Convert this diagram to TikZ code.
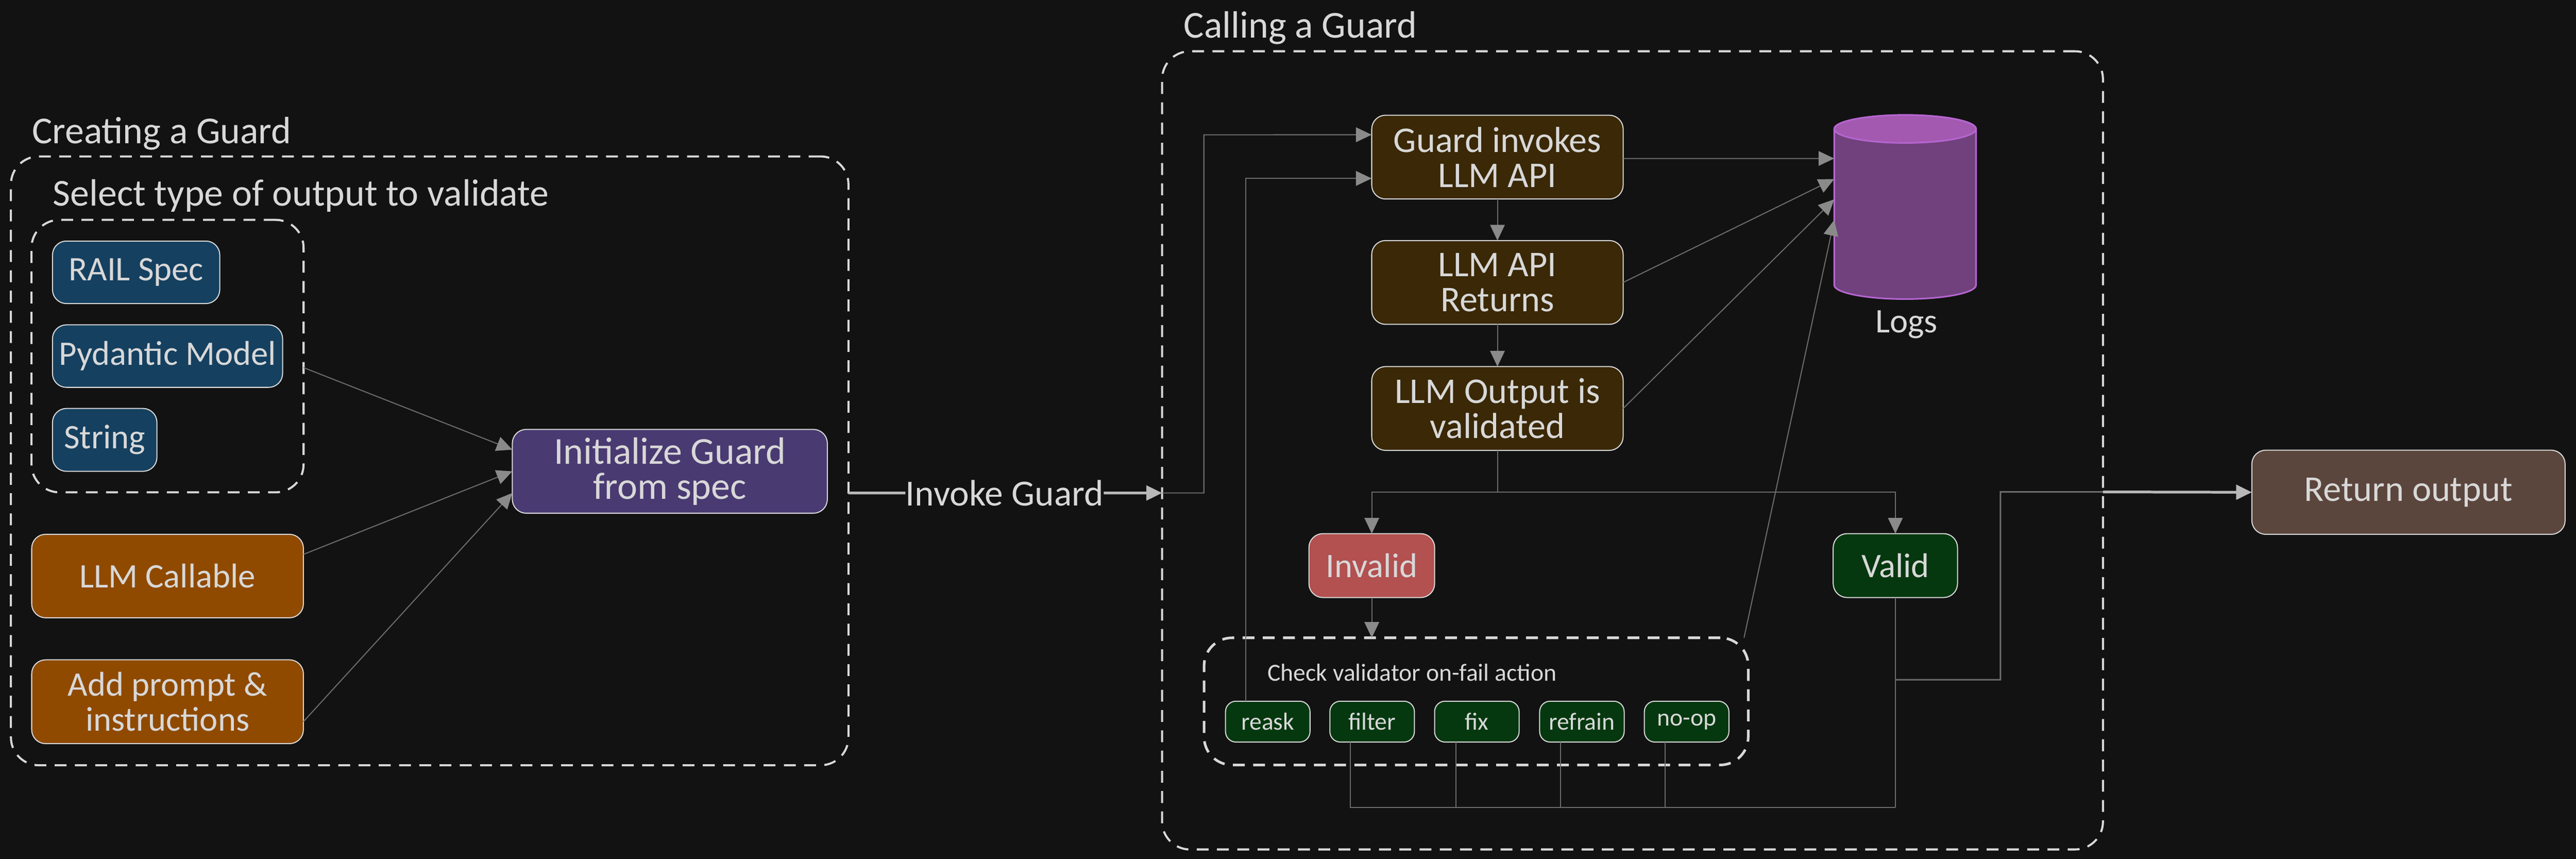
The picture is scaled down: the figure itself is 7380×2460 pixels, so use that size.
\documentclass[tikz,border=0pt]{standalone}
\usepackage{fontspec}
\setmainfont{Carlito}
\usetikzlibrary{arrows.meta}
\definecolor{canvasbg}{HTML}{121212}
\definecolor{inkgrey}{HTML}{D8D8D8}
\definecolor{wiregrey}{HTML}{6C6C6C}
\definecolor{tipgrey}{HTML}{8A8A8A}
\definecolor{railblue}{HTML}{154060}
\definecolor{llmorange}{HTML}{8F4A00}
\definecolor{initpurple}{HTML}{4A3A72}
\definecolor{stepbrown}{HTML}{3A2806}
\definecolor{failred}{HTML}{B35050}
\definecolor{passgreen}{HTML}{05380F}
\definecolor{returnbrown}{HTML}{5B463D}
\definecolor{logbody}{HTML}{70417C}
\definecolor{logtop}{HTML}{A359B0}
\definecolor{logline}{HTML}{B565D0}
\tikzset{
  guardbox/.style={draw=inkgrey, line width=.85pt, rounded corners=.4cm, inner sep=0pt, outer sep=0pt,
    text=inkgrey, align=center, font=\fontsize{28}{28.5}\selectfont},
  stepbox/.style={guardbox, fill=stepbrown, minimum width=7.2cm, minimum height=2.4cm,
    font=\fontsize{29.5}{28.5}\selectfont},
  actionbox/.style={guardbox, fill=passgreen, rounded corners=.3cm, minimum width=2.42cm, minimum height=1.17cm,
    font=\fontsize{20}{22}\selectfont},
  guardframe/.style={draw=inkgrey, line width=1.7pt, dash pattern=on 34*0.2845pt off 24*0.2845pt,
    rounded corners=.8cm, inner sep=0pt, outer sep=0pt},
  guardtitle/.style={text=inkgrey, anchor=west, inner sep=0pt, font=\fontsize{31}{28.5}\selectfont},
  flow/.style={draw=wiregrey, line width=.85pt, -{Triangle[length=.45cm,width=.42cm,fill=tipgrey,color=tipgrey]}},
  link/.style={draw=wiregrey, line width=.85pt},
  linkheavy/.style={draw=wiregrey, line width=1.3pt},
  flowbright/.style={draw=inkgrey!85!black, line width=2.2pt, -{Triangle[length=.45cm,width=.42cm,fill=inkgrey!85!black]}},
}
\begin{document}
\begin{tikzpicture}[x=0.01cm, y=-0.01cm]

      \fill [canvasbg] (0,0) rectangle (7380,2460);

      % creating a guard
      \node [guardtitle] (creatingtitle) at (91,383) {Creating a Guard};
      \node [guardframe, minimum width=23.98cm, minimum height=17.43cm] (creatingbox) at (1231,1320) {};
      \node [guardtitle] (selecttitle) at (151,561) {Select type of output to validate};
      \node [guardframe, minimum width=7.79cm, minimum height=7.8cm] (selectbox) at (480,1020) {};

      \node [guardbox, fill=railblue, minimum width=4.79cm, minimum height=1.79cm] (railspec) at (390,780) {RAIL Spec};
      \node [guardbox, fill=railblue, minimum width=6.59cm, minimum height=1.79cm] (pydantic) at (480,1020) {Pydantic Model};
      \node [guardbox, fill=railblue, minimum width=2.99cm, minimum height=1.8cm] (stringout) at (300,1260) {String};
      \node [guardbox, fill=llmorange, minimum width=7.78cm, minimum height=2.39cm] (llmcall) at (480,1650) {LLM Callable};
      \node [guardbox, fill=llmorange, minimum width=7.78cm, minimum height=2.4cm] (addprompt) at (480,2010) {Add prompt \&\\instructions};
      \node [guardbox, fill=initpurple, minimum width=9.02cm, minimum height=2.4cm, font=\fontsize{31}{28.5}\selectfont] (initguard) at (1919,1350) {Initialize Guard\\from spec};

      \draw [flow] ([yshift=-.33cm]selectbox.east) to ([yshift=.62cm]initguard.west);
      \draw [flow] ([yshift=.62cm]llmcall.east) to (initguard.west);
      \draw [flow] ([yshift=-.57cm]addprompt.east) to ([yshift=-.62cm]initguard.west);

      % calling a guard
      \node [guardtitle] (callingtitle) at (3391,80) {Calling a Guard};
      \node [guardframe, minimum width=26.94cm, minimum height=22.85cm] (callingbox) at (4677,1290) {};

      \node [text=inkgrey, inner sep=0pt, font=\fontsize{30}{28.5}\selectfont, minimum width=5.6cm] (invokelabel) at (2878,1412) {Invoke Guard};
      \draw [flowbright, -] ([yshift=-.92cm]creatingbox.east) to (invokelabel.west);
      \draw [flowbright] (invokelabel.east) to ([yshift=-1.22cm]callingbox.west);

      \node [stepbox] (guardapi) at (4290,450) {Guard invokes\\LLM API};
      \node [stepbox] (apireturns) at (4290,809) {LLM API\\Returns};
      \node [stepbox] (outputval) at (4290,1170) {LLM Output is\\validated};
      \draw [flow] (guardapi) to (apireturns);
      \draw [flow] (apireturns) to (outputval);

      % log store: the node only gives the anchors
      \node [minimum width=4.06cm, minimum height=5.27cm, inner sep=0pt, outer sep=0pt] (logsdb) at (5458,593) {};
      \filldraw [draw=logline, fill=logbody, line width=1.3pt] ([yshift=-.4cm]logsdb.north west) -- ([yshift=.4cm]logsdb.south west)
        arc [start angle=180, end angle=360, x radius=2.03cm, y radius=.4cm] -- ([yshift=-.4cm]logsdb.north east)
        arc [start angle=0, end angle=180, x radius=2.03cm, y radius=.4cm] -- cycle;
      \filldraw [draw=logline, fill=logtop, line width=1.3pt] ([yshift=-.4cm]logsdb.north) ellipse [x radius=2.03cm, y radius=.4cm];
      \node [text=inkgrey, font=\fontsize{28}{28.5}\selectfont] (logslabel) at (5462,930) {Logs};
      \draw [flow] ([yshift=-.04cm]guardapi.east) to ([yshift=1.39cm]logsdb.west);
      \draw [flow] (apireturns.east) to ([yshift=.8cm]logsdb.west);
      \draw [flow] (outputval.east) to ([yshift=.22cm]logsdb.west);

      \node [guardbox, fill=failred, minimum width=3.6cm, minimum height=1.83cm] (invalid) at (3930,1620) {Invalid};
      \node [guardbox, fill=passgreen, minimum width=3.56cm, minimum height=1.83cm] (valid) at (5430,1620) {Valid};
      \coordinate (splitjoin) at (4290,1410);
      \draw [flow] (outputval.south) to (splitjoin) -| (invalid.north);
      \draw [flow] (splitjoin) -| (valid.north);

      \node [guardframe, line width=2.1pt, minimum width=15.58cm, minimum height=3.64cm] (checkbox) at (4229,2009) {};
      \node [guardtitle, font=\fontsize{20}{22}\selectfont] (checktitle) at (3631,1927) {Check validator on-fail action};
      \draw [flow] (invalid.south) to (invalid.south |- checkbox.north);
      \draw [flow] ([xshift=7.67cm,yshift=1.82cm]checkbox.center) to ([yshift=-.37cm]logsdb.west);

      \node [actionbox] (reask) at (3632,2067) {reask};
      \node [actionbox] (filter) at (3931,2067) {filter};
      \node [actionbox] (fix) at (4231,2067) {fix};
      \node [actionbox] (refrain) at (4532,2067) {refrain};
      \node [actionbox] (noop) at (4832,2067) {no-op};

      % retry goes back to the top
      \coordinate (invokerise) at (3449,386);
      \draw [flow] ([yshift=-1.22cm]callingbox.west) -| (invokerise) to ([yshift=.64cm]guardapi.west);
      \draw [flow] ([xshift=-.63cm]reask.north) |- ([yshift=-.61cm]guardapi.west);

      % everything else ends at valid
      \coordinate (passbus) at (5430,2313);
      \draw [link] (valid.south) to (passbus);
      \draw [link] ([xshift=-.62cm]filter.south) |- (passbus);
      \draw [link] ([xshift=-.6cm]fix.south) |- (passbus);
      \draw [link] ([xshift=-.61cm]refrain.south) |- (passbus);
      \draw [link] ([xshift=-.61cm]noop.south) |- (passbus);

      % output
      \node [guardbox, fill=returnbrown, minimum width=8.97cm, minimum height=2.41cm, font=\fontsize{29.5}{28.5}\selectfont] (returnout) at (6900,1410) {Return output};
      \coordinate (validbranch) at (5430,1947);
      \coordinate (returnturn) at (5731,1947);
      \coordinate (returntop) at (5731,1409);
      \draw [linkheavy] (validbranch) to (returnturn) to (returntop) to ([yshift=-1.19cm]callingbox.east);
      \draw [flowbright] ([yshift=-1.19cm]callingbox.east) to (returnout.west);

\end{tikzpicture}
\end{document}
